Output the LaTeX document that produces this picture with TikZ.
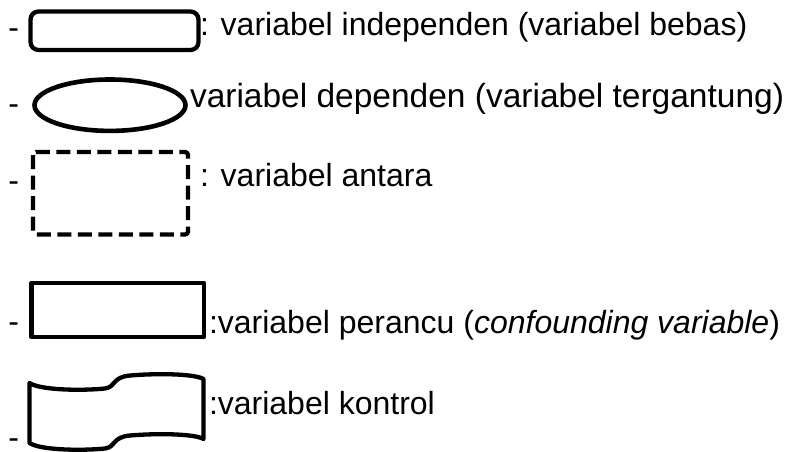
\documentclass[tikz,border=0pt]{standalone}
\usepackage{fontspec}
\setmainfont{Liberation Sans}
\begin{document}
\begin{tikzpicture}[x=1pt,y=-1pt,
  shp/.style={draw=black,line width=4.3pt,line join=round},
  lbl/.style={anchor=base west,inner sep=0pt,outer sep=0pt,font=\fontsize{32}{38}\selectfont},
  bullet/.style={anchor=base west,inner sep=0pt,outer sep=0pt,font=\fontsize{32}{38}\selectfont}]
\useasboundingbox (0,0) rectangle (793,452);
% shapes
\draw[shp,rounded corners=8pt] (30.5,11.5) rectangle (198.5,50);
\draw[shp,line width=4.6pt] (110,105.2) ellipse [x radius=75.5, y radius=25.7];
\draw[shp,dash pattern=on 14pt off 6.5pt,rounded corners=3pt] (33,152) rectangle (188,234.5);
\draw[shp] (31.5,283) rectangle (204,337);
\draw[shp] (29.5,383) .. controls (40,390) and (80,391) .. (105,388.5)
  .. controls (116,387) and (112,377) .. (130,375.5)
  .. controls (160,373) and (195,374) .. (203.5,379)
  -- (203.5,439)
  .. controls (195,434) and (160,433) .. (130,435.5)
  .. controls (112,437) and (116,447) .. (105,448.5)
  .. controls (80,451) and (40,450) .. (29.5,443) -- cycle;
% dashes
\node[bullet] (d1) at (8.5,39) {-};
\node[bullet] (d2) at (8.5,114) {-};
\node[bullet] (d3) at (8.5,191) {-};
\node[bullet] (d4) at (8.5,332) {-};
\node[bullet] (d5) at (8.5,448.5) {-};
% labels
\node[lbl] (t1) at (200,36) {: variabel independen (variabel bebas)};
\node[lbl,font=\fontsize{33.5}{40}\selectfont] (t2) at (190,107) {variabel dependen (variabel tergantung)};
\node[lbl] (t3) at (200,186) {: variabel antara};
\node[lbl] (t4) at (209,333) {:variabel perancu (\textit{confounding variable})};
\node[lbl] (t5) at (209,414) {:variabel kontrol};
\end{tikzpicture}
\end{document}
